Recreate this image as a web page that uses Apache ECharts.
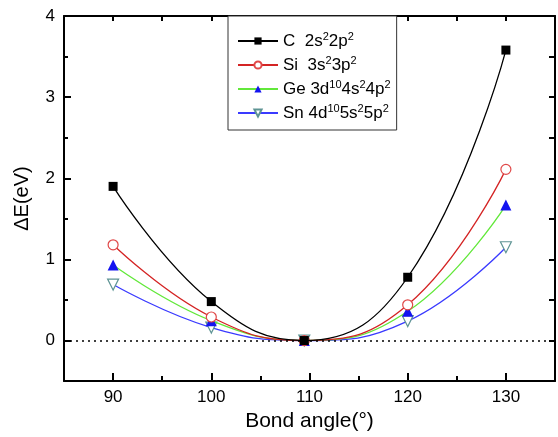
<!DOCTYPE html>
<html>
<head>
<meta charset="utf-8">
<script src="https://cdn.jsdelivr.net/npm/echarts@6/dist/echarts.min.js"></script>
<style>
  html, body { margin: 0; padding: 0; background: #fff; }
  #chart { width: 558px; height: 437px; }
</style>
</head>
<body>
<div id="chart"></div>
<script>
// bond angles (deg), the middle one is the tetrahedral angle
const angles = [90, 100, 109.47, 120, 130];
// ΔE (eV) per element
const cValues = [1.90, 0.48, 0, 0.78, 3.58];
const siValues = [1.18, 0.29, 0, 0.44, 2.11];
const geValues = [0.93, 0.245, 0, 0.36, 1.67];
const snValues = [0.69, 0.16, 0, 0.24, 1.15];

const seriesNames = ['C', 'Si', 'Ge', 'Sn'];
const legendLabels = [
  'C  2s{s|2}2p{s|2}',
  'Si  3s{s|2}3p{s|2}',
  'Ge 3d{s|10}4s{s|2}4p{s|2}',
  'Sn 4d{s|10}5s{s|2}5p{s|2}',
];

const xTicks = [90, 100, 110, 120, 130];
const xMinorTicks = [95, 105, 115, 125];
const yTicks = [0, 1, 2, 3, 4];
const yMinorTicks = [0.5, 1.5, 2.5, 3.5];

const FONT = 'Liberation Sans, Arial, sans-serif';

const pairs = values => angles.map((a, i) => [a, values[i]]);

const frameLine = { show: true, onZero: false, lineStyle: { color: '#000', width: 2 } };

const myChart = echarts.init(document.getElementById('chart'));

const option = {
  animation: false,
  backgroundColor: '#fff',
  grid: { left: 64, right: 3, top: 16, bottom: 54 },
  legend: {
    orient: 'vertical',
    left: 228,
    top: 16,
    padding: [15, 6, 7, 9],
    itemWidth: 40,
    itemHeight: 9,
    itemGap: 4,
    backgroundColor: '#fff',
    borderColor: '#333',
    borderWidth: 1,
    data: seriesNames,
    formatter: name => legendLabels[seriesNames.indexOf(name)],
    textStyle: {
      fontFamily: FONT,
      fontSize: 17,
      lineHeight: 20,
      color: '#000',
      rich: {
        s: { fontFamily: FONT, fontSize: 11, lineHeight: 11, verticalAlign: 'top', color: '#000' },
      },
    },
  },
  xAxis: [
    {
      // main bottom axis with labels
      type: 'value',
      min: 85,
      max: 135,
      interval: 5,
      position: 'bottom',
      name: 'Bond angle(°)',
      nameLocation: 'middle',
      nameGap: 27,
      nameTextStyle: { fontFamily: FONT, fontSize: 21, color: '#000' },
      axisLine: frameLine,
      axisTick: { show: true, inside: true, length: 8, customValues: xTicks, lineStyle: { color: '#000', width: 2 } },
      axisLabel: { show: true, customValues: xTicks, margin: 8, fontFamily: FONT, fontSize: 17, color: '#000' },
      splitLine: { show: false },
    },
    {
      // minor ticks at bottom
      type: 'value',
      min: 85,
      max: 135,
      interval: 5,
      position: 'bottom',
      axisLine: { show: false, onZero: false },
      axisTick: { show: true, inside: true, length: 5, customValues: xMinorTicks, lineStyle: { color: '#000', width: 2 } },
      axisLabel: { show: false },
      splitLine: { show: false },
    },
    {
      // top frame
      type: 'value',
      min: 85,
      max: 135,
      interval: 5,
      position: 'top',
      axisLine: frameLine,
      axisTick: { show: true, inside: true, length: 5, lineStyle: { color: '#000', width: 2 } },
      axisLabel: { show: false },
      splitLine: { show: false },
    },
  ],
  yAxis: [
    {
      type: 'value',
      min: -0.5,
      max: 4,
      interval: 0.5,
      position: 'left',
      name: 'ΔE(eV)',
      nameLocation: 'middle',
      nameGap: 32,
      nameTextStyle: { fontFamily: FONT, fontSize: 20, color: '#000' },
      axisLine: frameLine,
      axisTick: { show: true, inside: true, length: 7, customValues: yTicks, lineStyle: { color: '#000', width: 2 } },
      axisLabel: { show: true, customValues: yTicks, margin: 9, fontFamily: FONT, fontSize: 17, color: '#000' },
      splitLine: { show: false },
    },
    {
      type: 'value',
      min: -0.5,
      max: 4,
      interval: 0.5,
      position: 'left',
      axisLine: { show: false, onZero: false },
      axisTick: { show: true, inside: true, length: 4, customValues: yMinorTicks, lineStyle: { color: '#000', width: 2 } },
      axisLabel: { show: false },
      splitLine: { show: false },
    },
    {
      // right frame
      type: 'value',
      min: -0.5,
      max: 4,
      interval: 0.5,
      position: 'right',
      axisLine: frameLine,
      axisTick: { show: true, inside: true, length: 6, lineStyle: { color: '#000', width: 2 } },
      axisLabel: { show: false },
      splitLine: { show: false },
    },
  ],
  series: [
    {
      name: 'C',
      type: 'line',
      smooth: 0.45,
      data: pairs(cValues),
      symbol: 'rect',
      symbolSize: 9,
      lineStyle: { color: '#000', width: 1.3 },
      itemStyle: { color: '#000' },
      z: 5,
      markLine: {
        silent: true,
        symbol: 'none',
        label: { show: false },
        lineStyle: { color: '#000', type: [2, 4], width: 1.5 },
        data: [{ yAxis: 0 }],
      },
    },
    {
      name: 'Si',
      type: 'line',
      smooth: 0.45,
      data: pairs(siValues),
      symbol: 'circle',
      symbolSize: 10,
      lineStyle: { color: '#d42424', width: 1.3 },
      itemStyle: { color: '#fff', borderColor: '#e04848', borderWidth: 1.2 },
      z: 4,
    },
    {
      name: 'Ge',
      type: 'line',
      smooth: 0.45,
      data: pairs(geValues),
      symbol: 'triangle',
      symbolSize: 11,
      lineStyle: { color: '#62e83a', width: 1.3 },
      itemStyle: { color: '#1414f0' },
      z: 3,
    },
    {
      name: 'Sn',
      type: 'line',
      smooth: 0.45,
      data: pairs(snValues),
      symbol: 'triangle',
      symbolRotate: 180,
      symbolSize: 11,
      lineStyle: { color: '#3a3aff', width: 1.3 },
      itemStyle: { color: '#fff', borderColor: '#5e9494', borderWidth: 1.2 },
      z: 2,
    },
  ],
};

myChart.setOption(option);
</script>
</body>
</html>
